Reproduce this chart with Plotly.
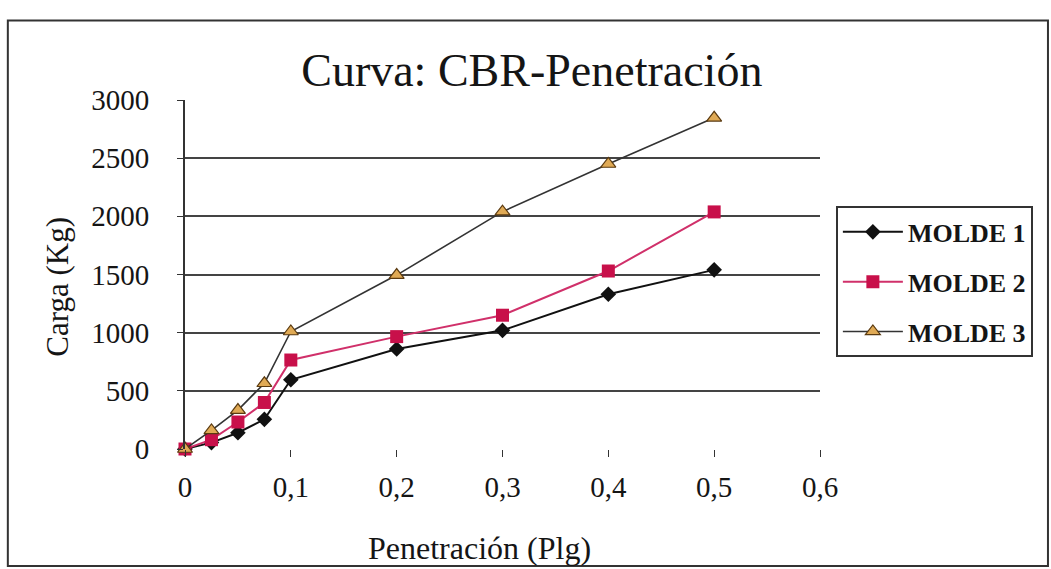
import plotly.graph_objects as go

# Penetration (inches) and load (kg) for each mould
penetracion = [0, 0.025, 0.05, 0.075, 0.1, 0.2, 0.3, 0.4, 0.5]
molde_1 = [0, 55, 140, 255, 595, 860, 1020, 1330, 1540]
molde_2 = [0, 80, 232, 400, 765, 966, 1150, 1530, 2038]
molde_3 = [0, 160, 335, 565, 1010, 1495, 2040, 2450, 2847]

x_ticks = [0, 0.1, 0.2, 0.3, 0.4, 0.5, 0.6]
x_tick_text = ["0", "0,1", "0,2", "0,3", "0,4", "0,5", "0,6"]
y_ticks = [0, 500, 1000, 1500, 2000, 2500, 3000]

serif = "Liberation Serif, Times New Roman, serif"
ink = "#151515"

fig = go.Figure()
fig.add_trace(go.Scatter(
    x=penetracion, y=molde_1, name="MOLDE 1", legendgroup="m1",
    mode="lines+markers",
    line=dict(color="#111111", width=2),
    marker=dict(symbol="diamond", size=12, color="#111111"),
    cliponaxis=False,
))
fig.add_trace(go.Scatter(
    x=penetracion, y=molde_2, name="MOLDE 2", legendgroup="m2",
    mode="lines+markers",
    line=dict(color="#d0306a", width=2),
    marker=dict(symbol="square", size=13, color="#c8104a"),
    cliponaxis=False,
))
fig.add_trace(go.Scatter(
    x=penetracion, y=molde_3, name="MOLDE 3", legendgroup="m3",
    mode="lines+markers",
    line=dict(color="#333333", width=1.6),
    marker=dict(symbol="triangle-up", size=13, color="#e0aa55",
                line=dict(color="#5a3a10", width=1.2)),
    cliponaxis=False,
))

# Outer frame around the whole chart
fig.add_shape(type="rect", xref="paper", yref="paper",
              x0=-0.279, x1=1.359, y0=-0.335, y1=1.228,
              line=dict(color="#333333", width=2), fillcolor="rgba(0,0,0,0)")

# Axis titles
fig.add_annotation(text="Penetración (Plg)", xref="paper", yref="paper",
                   x=0.463, y=-0.285, xanchor="center", yanchor="middle",
                   showarrow=False, font=dict(family=serif, size=32, color=ink))
fig.add_annotation(text="Carga (Kg)", xref="paper", yref="paper",
                   x=-0.2, y=0.465, xanchor="center", yanchor="middle",
                   textangle=-90, showarrow=False,
                   font=dict(family=serif, size=31, color=ink))

fig.update_layout(
    width=1051, height=569,
    margin=dict(l=185, r=231, t=100, b=120),
    paper_bgcolor="white", plot_bgcolor="white",
    font=dict(family=serif, color=ink, size=28),
    showlegend=True,
    title=dict(text="Curva: CBR-Penetración", x=0.506, xanchor="center",
               y=0.877, yanchor="middle",
               font=dict(family=serif, size=46, color=ink)),
    xaxis=dict(
        range=[0, 0.6], tickvals=x_ticks, ticktext=x_tick_text,
        showgrid=False, zeroline=False, showline=False,
        ticks="outside", ticklen=7, tickcolor="#333333",
        ticklabelstandoff=5,
        tickfont=dict(family=serif, size=29, color=ink),
    ),
    yaxis=dict(
        range=[0, 3000], tickvals=y_ticks,
        showgrid=True, gridcolor="#444444", gridwidth=1.8,
        zeroline=False, showline=True, linecolor="#333333", linewidth=1.8,
        ticks="outside", ticklen=6, tickcolor="#333333",
        ticklabelstandoff=22,
        tickfont=dict(family=serif, size=29, color=ink),
    ),
    legend=dict(
        x=1.025, y=0.695, xanchor="left", yanchor="top",
        bordercolor="#333333", borderwidth=2, bgcolor="white",
        font=dict(family=serif, size=26, color=ink, weight="bold"),
        itemwidth=60, tracegroupgap=13,
    ),
)
fig.write_html("out.html")
